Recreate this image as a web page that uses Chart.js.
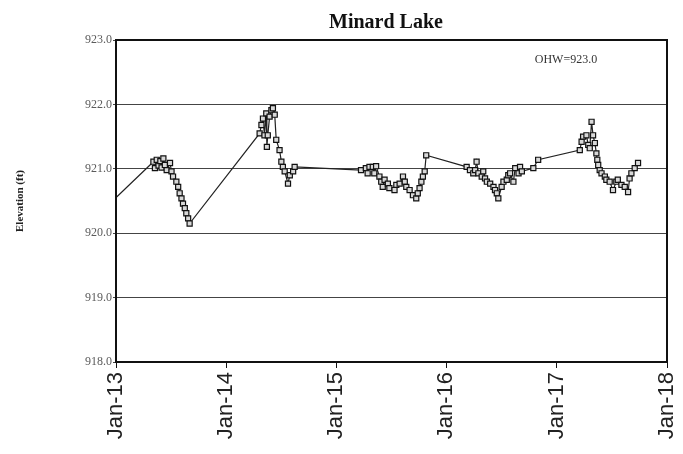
<!DOCTYPE html>
<html>
<head>
<meta charset="utf-8">
<script src="https://cdn.jsdelivr.net/npm/chart.js@4"></script>
<style>
  html, body { margin: 0; padding: 0; background: #fff; }
  #wrap { width: 683px; height: 454px; }
</style>
</head>
<body>
<div id="wrap"><canvas id="chartOne" width="683" height="454"></canvas></div>
<script>
"use strict";

// observation dates (first one lies before the axis start, only its line shows)
let dates = [
  "2012-10-15",
  "2013-05-05", "2013-05-10", "2013-05-16", "2013-05-22", "2013-05-28", "2013-06-01",
  "2013-06-07", "2013-06-12", "2013-06-18", "2013-06-29", "2013-07-04", "2013-07-09",
  "2013-07-20", "2013-07-26", "2013-07-31", "2013-08-06", "2013-08-11", "2013-08-17",
  "2013-08-22", "2013-08-28", "2013-09-02",
  "2014-04-22", "2014-04-28", "2014-05-03", "2014-05-08", "2014-05-14", "2014-05-16",
  "2014-05-19", "2014-05-25", "2014-05-31", "2014-06-05", "2014-06-11", "2014-06-16",
  "2014-06-27", "2014-07-03", "2014-07-08", "2014-07-14", "2014-07-25", "2014-07-31",
  "2014-08-11", "2014-08-16",
  "2015-03-24", "2015-04-09", "2015-04-15", "2015-04-21", "2015-05-02", "2015-05-07",
  "2015-05-13", "2015-05-24", "2015-05-30", "2015-06-04", "2015-06-10", "2015-06-21",
  "2015-06-26", "2015-07-13", "2015-07-19", "2015-07-30", "2015-08-10", "2015-08-16",
  "2015-08-21", "2015-09-01", "2015-09-12", "2015-09-23", "2015-09-28", "2015-10-04",
  "2015-10-10", "2015-10-15", "2015-10-21", "2015-10-26",
  "2016-03-08", "2016-03-19", "2016-03-30", "2016-04-05", "2016-04-10", "2016-04-16",
  "2016-04-27", "2016-05-02", "2016-05-08", "2016-05-14", "2016-05-25", "2016-06-05",
  "2016-06-10", "2016-06-16", "2016-06-21", "2016-07-02", "2016-07-08", "2016-07-19",
  "2016-07-24", "2016-07-30", "2016-08-10", "2016-08-16", "2016-08-27", "2016-09-01",
  "2016-09-07", "2016-10-15", "2016-10-31",
  "2017-03-18", "2017-03-24", "2017-03-29", "2017-04-09", "2017-04-15", "2017-04-20",
  "2017-04-26", "2017-05-01", "2017-05-07", "2017-05-12", "2017-05-15", "2017-05-18",
  "2017-05-23", "2017-05-29", "2017-06-09", "2017-06-14", "2017-06-25", "2017-07-06",
  "2017-07-17", "2017-07-22", "2017-08-03", "2017-08-14", "2017-08-25", "2017-08-30",
  "2017-09-05", "2017-09-16", "2017-09-27"
];

// lake elevation (ft)
let elevations = [
  920.20,
  921.11, 921.01, 921.14, 921.05, 921.12, 921.02,
  921.16, 921.06, 920.98, 921.09, 920.96, 920.88,
  920.80, 920.72, 920.62, 920.54, 920.46, 920.39,
  920.31, 920.23, 920.15,
  921.55, 921.68, 921.78, 921.52, 921.86, 921.34,
  921.52, 921.81, 921.91, 921.94, 921.84, 921.45,
  921.29, 921.11, 921.03, 920.96, 920.77, 920.90,
  920.96, 921.03,
  920.98, 921.01, 920.93, 921.03, 921.03, 920.93,
  921.04, 920.88, 920.80, 920.72, 920.83, 920.77,
  920.70, 920.67, 920.75, 920.77, 920.88, 920.80,
  920.72, 920.67, 920.59, 920.54, 920.62, 920.70,
  920.80, 920.88, 920.96, 921.21,
  921.03, 920.98, 920.93, 920.98, 921.11, 920.93,
  920.88, 920.96, 920.85, 920.80, 920.77, 920.72,
  920.67, 920.62, 920.54, 920.72, 920.80, 920.83,
  920.90, 920.93, 920.80, 921.01, 920.93, 921.03,
  920.96, 921.01, 921.14,
  921.29, 921.42, 921.50, 921.52, 921.37, 921.32,
  921.73, 921.52, 921.40, 921.24, 921.14, 921.06,
  920.98, 920.93, 920.88, 920.83, 920.80, 920.67,
  920.80, 920.83, 920.75, 920.72, 920.64, 920.85,
  920.93, 921.01, 921.09
];

let yearTicks = ["2013-01-01", "2014-01-01", "2015-01-01", "2016-01-01", "2017-01-01", "2018-01-01"];
let months = ["Jan", "Feb", "Mar", "Apr", "May", "Jun", "Jul", "Aug", "Sep", "Oct", "Nov", "Dec"];

let points = dates.map((d, i) => ({ x: Date.parse(d), y: elevations[i] }));

// box around plot + chart title + OHW note
let frame = {
  id: "frame",
  afterDraw(chart) {
    let a = chart.chartArea;
    let c = chart.ctx;
    c.save();
    c.strokeStyle = "#111";
    c.lineWidth = 2;
    c.strokeRect(a.left, a.top, a.right - a.left, a.bottom - a.top);
    c.fillStyle = "#111";
    c.textAlign = "center";
    c.textBaseline = "middle";
    c.font = "bold 20px 'Liberation Serif', 'Times New Roman', serif";
    c.fillText("Minard Lake", 386, 23);
    c.font = "12px 'Liberation Serif', 'Times New Roman', serif";
    c.fillStyle = "#333";
    c.fillText("OHW=923.0", 566, 60);
    c.restore();
  },
};

let ctxOne = document.getElementById("chartOne").getContext("2d");
let chartOne = new Chart(ctxOne, {
  type: "line",
  data: {
    datasets: [
      {
        data: points,
        borderColor: "#222",
        borderWidth: 1.2,
        pointStyle: "rect",
        pointRadius: 3.6,
        pointBorderWidth: 1.2,
        pointBorderColor: "#111",
        pointBackgroundColor: "#d8d8d8",
        tension: 0,
      },
    ],
  },
  options: {
    responsive: false,
    animation: false,
    layout: { padding: { top: 40, right: 16, left: 14, bottom: 0 } },
    plugins: { legend: { display: false }, tooltip: { enabled: false } },
    scales: {
      x: {
        type: "linear",
        min: Date.parse(yearTicks[0]),
        max: Date.parse(yearTicks[yearTicks.length - 1]),
        afterBuildTicks(scale) {
          scale.ticks = yearTicks.map((t) => ({ value: Date.parse(t) }));
        },
        afterFit(scale) {
          scale.height = 92;
          scale.paddingRight = 0;
          scale.paddingLeft = 0;
        },
        ticks: {
          autoSkip: false,
          minRotation: 90,
          maxRotation: 90,
          color: "#222",
          padding: 4,
          font: { family: "'Liberation Sans', Arial, sans-serif", size: 22 },
          callback(v) {
            let d = new Date(v);
            return months[d.getUTCMonth()] + "-" + String(d.getUTCFullYear()).slice(2);
          },
        },
        grid: { drawOnChartArea: false, drawTicks: true, tickLength: 6, color: "#111" },
        border: { display: true, color: "#111", width: 2 },
      },
      y: {
        min: 918,
        max: 923,
        afterFit(scale) {
          scale.width = 102;
        },
        ticks: {
          stepSize: 1,
          color: "#5a5a5a",
          padding: 1,
          font: { family: "'Liberation Serif', 'Times New Roman', serif", size: 12 },
          callback(v) {
            return v.toFixed(1);
          },
        },
        grid: { color: "#444", lineWidth: 1, drawTicks: true, tickLength: 3 },
        border: { display: true, color: "#111", width: 2 },
        title: {
          display: true,
          text: "Elevation (ft)",
          color: "#222",
          padding: 0,
          font: { family: "'Liberation Serif', 'Times New Roman', serif", size: 11, weight: "bold" },
        },
      },
    },
  },
  plugins: [frame],
});
</script>
</body>
</html>
